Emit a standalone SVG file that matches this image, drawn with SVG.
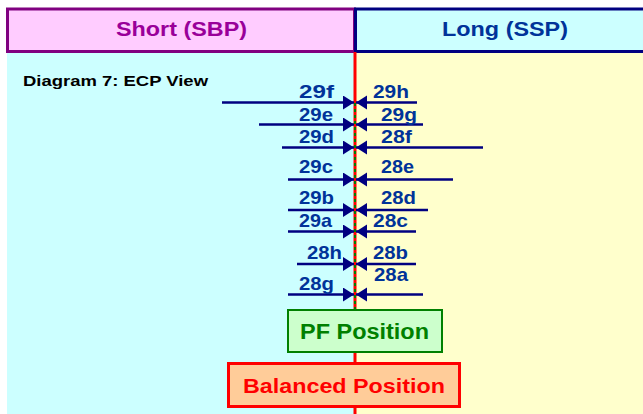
<svg xmlns="http://www.w3.org/2000/svg" width="643" height="414" viewBox="0 0 643 414">
<style>
.lbl{font-family:"Liberation Sans",Arial,sans-serif;font-weight:bold;font-size:18.5px;fill:#003399}
.arr{stroke:#000080;stroke-width:2.5;fill:none;marker-end:url(#ah)}
.hdr{font-family:"Liberation Sans",Arial,sans-serif;font-size:19.5px;font-weight:bold}
</style>
<defs>
<marker id="ah" markerUnits="userSpaceOnUse" markerWidth="14" markerHeight="16" refX="11" refY="7" orient="auto">
<path d="M0,0 L11,7 L0,14 Z" fill="#000080"/>
</marker>
</defs>
<rect x="0" y="0" width="643" height="414" fill="#ffffff"/>
<g id="background">
<rect x="7" y="52" width="348" height="362" fill="#CCFFFF"/>
<rect x="355" y="52" width="288" height="362" fill="#FFFFCC"/>
</g>
<g id="header-short">
<rect x="7.5" y="9" width="347" height="42.5" fill="#FFCCFF" stroke="#800080" stroke-width="3"/>
<text class="hdr" x="116" y="36" fill="#990099" textLength="131" lengthAdjust="spacingAndGlyphs">Short (SBP)</text>
</g>
<g id="header-long">
<rect x="355.5" y="9" width="300" height="42.5" fill="#CCFFFF" stroke="#000080" stroke-width="3"/>
<text class="hdr" x="442" y="36" fill="#003399" textLength="126" lengthAdjust="spacingAndGlyphs">Long (SSP)</text>
</g>
<g id="title">
<text x="23" y="85.5" font-family="'Liberation Sans',Arial,sans-serif" font-weight="bold" font-size="15.5" fill="#000000" textLength="185" lengthAdjust="spacingAndGlyphs">Diagram 7: ECP View</text>
</g>
<g id="axis">
<line x1="355" y1="52" x2="355" y2="414" stroke="#FF0000" stroke-width="3"/>
<line x1="355" y1="103" x2="355" y2="310" stroke="#008000" stroke-width="2" stroke-dasharray="3,3"/>
</g>
<g id="connectors">
<line class="arr" x1="222" y1="102.5" x2="354" y2="102.5"/>
<line class="arr" x1="417" y1="102.5" x2="356" y2="102.5"/>
<line class="arr" x1="259" y1="124.5" x2="354" y2="124.5"/>
<line class="arr" x1="423" y1="124.5" x2="356" y2="124.5"/>
<line class="arr" x1="282" y1="147.5" x2="354" y2="147.5"/>
<line class="arr" x1="483" y1="147.5" x2="356" y2="147.5"/>
<line class="arr" x1="288" y1="179.5" x2="354" y2="179.5"/>
<line class="arr" x1="453" y1="179.5" x2="356" y2="179.5"/>
<line class="arr" x1="288" y1="210" x2="354" y2="210"/>
<line class="arr" x1="428" y1="210" x2="356" y2="210"/>
<line class="arr" x1="288" y1="231.5" x2="354" y2="231.5"/>
<line class="arr" x1="416" y1="231.5" x2="356" y2="231.5"/>
<line class="arr" x1="297" y1="264" x2="354" y2="264"/>
<line class="arr" x1="416" y1="264" x2="356" y2="264"/>
<line class="arr" x1="288" y1="294.5" x2="354" y2="294.5"/>
<line class="arr" x1="423" y1="294.5" x2="356" y2="294.5"/>
</g>
<g id="labels">
<text class="lbl" x="299" y="97.5" textLength="35" lengthAdjust="spacingAndGlyphs">29f</text>
<text class="lbl" x="373" y="97.5" textLength="36" lengthAdjust="spacingAndGlyphs">29h</text>
<text class="lbl" x="299" y="121" textLength="34" lengthAdjust="spacingAndGlyphs">29e</text>
<text class="lbl" x="381" y="121" textLength="36" lengthAdjust="spacingAndGlyphs">29g</text>
<text class="lbl" x="299" y="142.5" textLength="35" lengthAdjust="spacingAndGlyphs">29d</text>
<text class="lbl" x="381" y="142.5" textLength="31" lengthAdjust="spacingAndGlyphs">28f</text>
<text class="lbl" x="299" y="172.5" textLength="34" lengthAdjust="spacingAndGlyphs">29c</text>
<text class="lbl" x="381" y="172.5" textLength="33" lengthAdjust="spacingAndGlyphs">28e</text>
<text class="lbl" x="299" y="204" textLength="35" lengthAdjust="spacingAndGlyphs">29b</text>
<text class="lbl" x="381" y="204" textLength="35" lengthAdjust="spacingAndGlyphs">28d</text>
<text class="lbl" x="299" y="226.5" textLength="33" lengthAdjust="spacingAndGlyphs">29a</text>
<text class="lbl" x="373" y="226.5" textLength="35" lengthAdjust="spacingAndGlyphs">28c</text>
<text class="lbl" x="307" y="259" textLength="35" lengthAdjust="spacingAndGlyphs">28h</text>
<text class="lbl" x="373" y="259" textLength="35" lengthAdjust="spacingAndGlyphs">28b</text>
<text class="lbl" x="374" y="280.5" textLength="34" lengthAdjust="spacingAndGlyphs">28a</text>
<text class="lbl" x="299" y="290" textLength="35" lengthAdjust="spacingAndGlyphs">28g</text>
</g>
<g id="pf-position">
<rect x="288" y="310" width="154" height="42" fill="#CCFFCC" stroke="#008000" stroke-width="2"/>
<text x="300" y="339" font-family="'Liberation Sans',Arial,sans-serif" font-weight="bold" font-size="22" fill="#008000" textLength="129" lengthAdjust="spacingAndGlyphs">PF Position</text>
</g>
<g id="balanced-position">
<rect x="228.5" y="363.5" width="231" height="43" fill="#FFCC99" stroke="#FF0000" stroke-width="3"/>
<text x="243" y="392.5" font-family="'Liberation Sans',Arial,sans-serif" font-weight="bold" font-size="21" fill="#FF0000" textLength="202" lengthAdjust="spacingAndGlyphs">Balanced Position</text>
</g>
</svg>
